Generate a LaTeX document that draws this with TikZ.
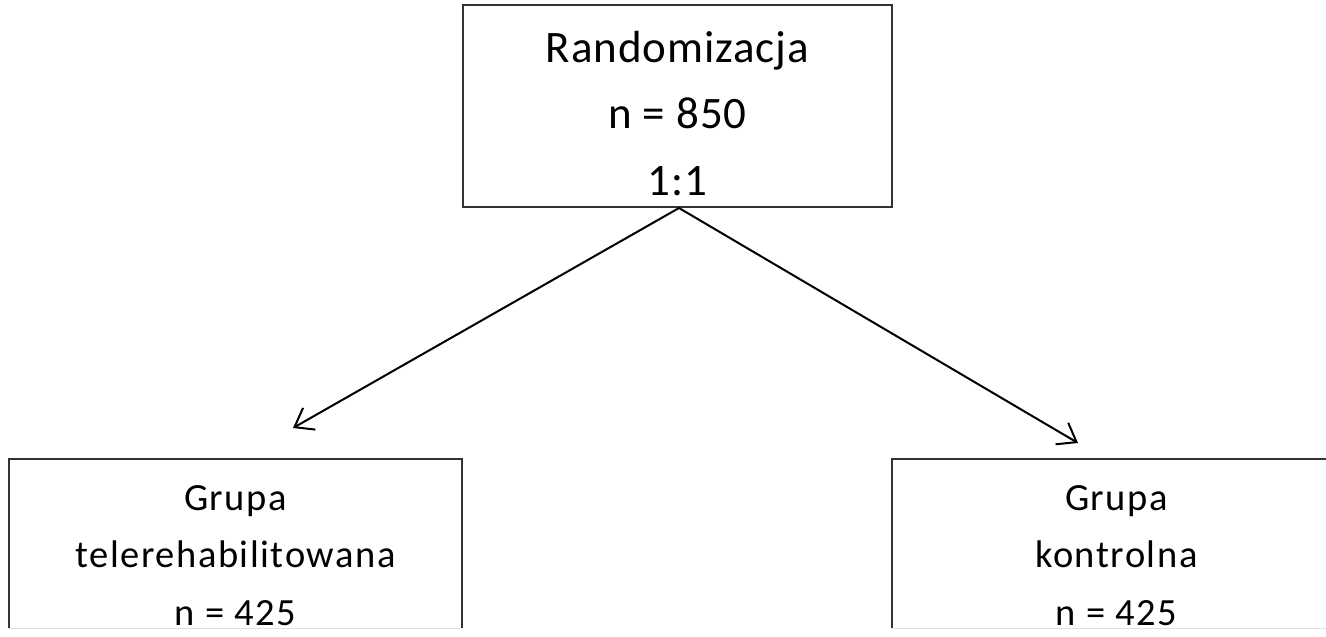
\documentclass[tikz,border=0pt]{standalone}
\usepackage{fontspec}
\setmainfont{Carlito}
\newfontfamily\topfont{Carlito}[LetterSpace=2]
\newfontfamily\botfont{Carlito}[LetterSpace=4]
\usetikzlibrary{arrows.meta}
\begin{document}
\begin{tikzpicture}[x=1pt,y=-1pt,
  boxframe/.style={draw=none,minimum width=#1,minimum height=202pt,inner sep=0pt},
  border/.style={draw=black!80,line width=2pt},
  toptext/.style={anchor=base,inner sep=0pt,text=black,font=\topfont\fontsize{45}{52}\selectfont},
  bottext/.style={anchor=base,inner sep=0pt,text=black,font=\botfont\fontsize{38.5}{44}\selectfont},
  conn/.style={draw=black,line width=2pt,-{Straight Barb[length=17pt,width=25pt,line width=2pt]}}]
\useasboundingbox (0,0) rectangle (1326,637);
% top box
\node[boxframe=429pt] (rand) at (677.5,106) {};
\draw[border] (rand.south west) rectangle (rand.north east);
\node[toptext] (t1) at (677.5,62) {Randomizacja};
\node[toptext] (t2) at (677.5,128) {n = 850};
\node[toptext] (t3) at (677.5,195) {1:1};
% bottom left box
\node[draw=none,minimum width=453pt,minimum height=169pt,inner sep=0pt] (tele) at (235.5,543.5) {};
\draw[draw=black!12,line width=1pt] (tele.south west) -- (tele.south east);
\draw[border] (tele.south west) -- (tele.north west) -- (tele.north east) -- (tele.south east);
\node[bottext] (l1) at (235.5,510) {Grupa};
\node[bottext] (l2) at (235.5,567) {telerehabilitowana};
\node[bottext] (l3) at (235.5,625) {n = 425};
% bottom right box
\node[draw=none,minimum width=449pt,minimum height=169pt,inner sep=0pt] (kontr) at (1116.5,543.5) {};
\draw[draw=black!12,line width=1pt] (kontr.south west) -- (kontr.south east);
\draw[border] (kontr.south west) -- (kontr.north west) -- (kontr.north east) -- (kontr.south east);
\node[bottext] (r1) at (1116.5,510) {Grupa};
\node[bottext] (r2) at (1116.5,567) {kontrolna};
\node[bottext] (r3) at (1116.5,625) {n = 425};
% connectors
\coordinate (apex) at (679,208);
\coordinate (tipL) at (293,428);
\coordinate (tipR) at (1078,443);
\draw[conn] (apex) -- (tipL);
\draw[conn] (apex) -- (tipR);
\end{tikzpicture}
\end{document}
